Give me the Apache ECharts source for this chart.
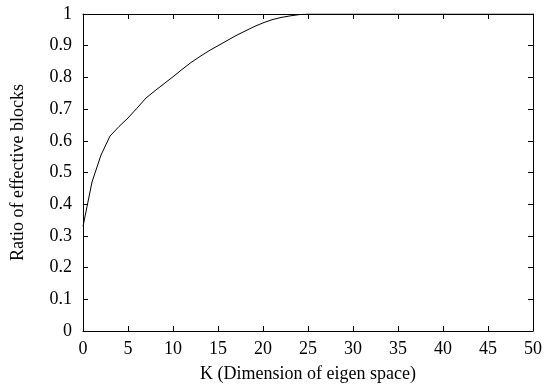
<!DOCTYPE html>
<html>
<head>
<meta charset="utf-8">
<script src="https://cdn.jsdelivr.net/npm/echarts@6/dist/echarts.min.js"></script>
<style>html,body{margin:0;padding:0;background:#fff}#c{width:545px;height:391px}</style>
</head>
<body>
<div id="c"></div>
<script>
var kValues = [0,1,2,3,4,5,6,7,8,9,10,11,12,13,14,15,16,17,18,19,20,21,22,23,24,25,26,27,28,29,30,31,32,33,34,35,36,37,38,39,40,41,42,43,44,45,46,47,48,49,50];
var ratios = [0.33,0.47,0.555,0.615,0.645,0.672,0.703,0.735,0.758,0.780,0.802,0.825,0.847,0.866,0.884,0.900,0.916,0.932,0.946,0.960,0.972,0.982,0.989,0.994,0.998,1,1,1,1,1,1,1,1,1,1,1,1,1,1,1,1,1,1,1,1,1,1,1,1,1,1];
var xName = 'K (Dimension of eigen space)';
var yName = 'Ratio of effective blocks';

var font = 'Liberation Serif';
var chart = echarts.init(document.getElementById('c'));
var lineStyle = {color:'#000', width:1};
var tickStyle = {show:true, inside:true, length:5, lineStyle:{color:'#000', width:1}};
chart.setOption({
  animation:false,
  grid:{left:83, right:12, top:14, bottom:60},
  xAxis:[{
    type:'value', min:0, max:50, interval:5,
    name:xName, nameLocation:'middle', nameGap:34,
    nameTextStyle:{fontFamily:font, fontSize:18, color:'#000'},
    axisLine:{show:true, onZero:false, lineStyle:lineStyle},
    axisTick:tickStyle,
    axisLabel:{fontFamily:font, fontSize:18, color:'#000', margin:9},
    splitLine:{show:false}
  },{
    type:'value', min:0, max:50, interval:5, position:'top',
    axisLine:{show:true, onZero:false, lineStyle:lineStyle},
    axisTick:tickStyle, axisLabel:{show:false}, splitLine:{show:false}
  }],
  yAxis:[{
    type:'value', min:0, max:1, interval:0.1,
    name:yName, nameLocation:'middle', nameGap:56,
    nameTextStyle:{fontFamily:font, fontSize:18, color:'#000'},
    axisLine:{show:true, onZero:false, lineStyle:lineStyle},
    axisTick:tickStyle,
    axisLabel:{fontFamily:font, fontSize:18, color:'#000', margin:11,
      formatter:function(v){return String(Math.round(v*10)/10);}},
    splitLine:{show:false}
  },{
    type:'value', min:0, max:1, interval:0.1, position:'right',
    axisLine:{show:true, onZero:false, lineStyle:lineStyle},
    axisTick:tickStyle, axisLabel:{show:false}, splitLine:{show:false}
  }],
  series:[{
    type:'line', showSymbol:false, symbol:'none',
    data:kValues.map(function(k,i){return [k, ratios[i]];}),
    lineStyle:{color:'#000', width:1}, itemStyle:{color:'#000'}
  }]
});
</script>
</body>
</html>
